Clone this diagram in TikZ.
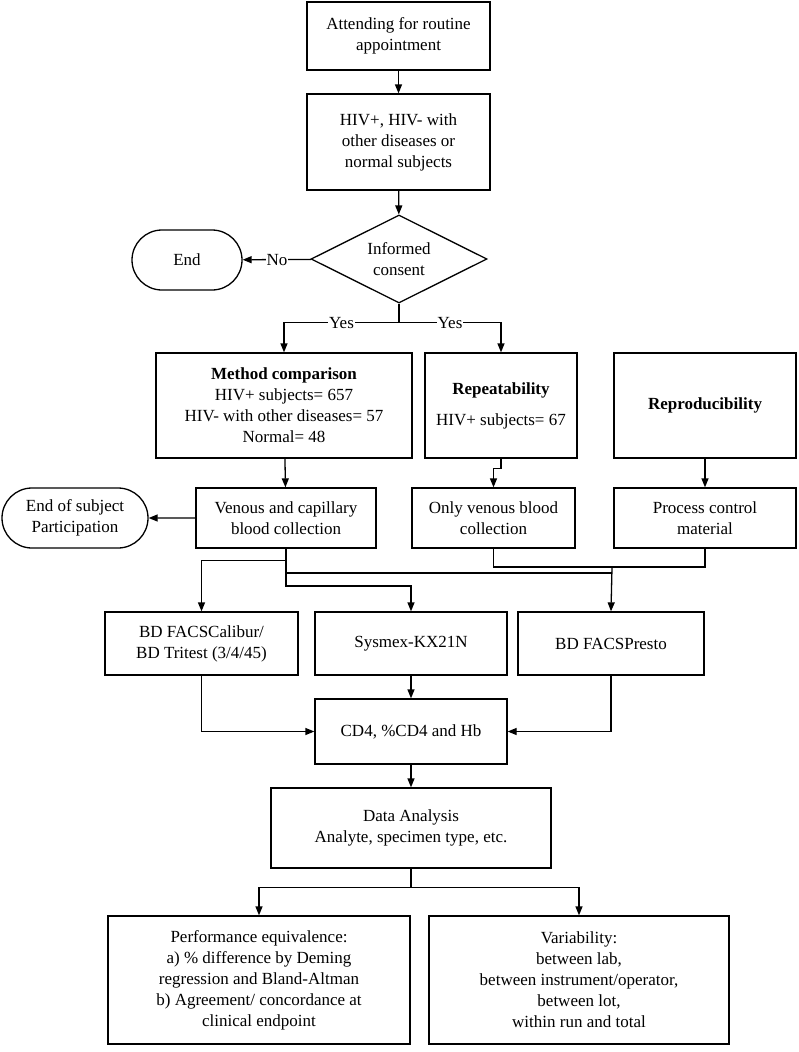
\documentclass[tikz,border=0pt]{standalone}
\usepackage{fontspec}
\setmainfont{Liberation Serif}
\usetikzlibrary{shapes.geometric,shapes.misc,arrows.meta}

\begin{document}
\begin{tikzpicture}[x=1pt,y=-1pt,
    >={Triangle[length=9pt,width=7pt]},
    every node/.style={font=\fontsize{17}{21}\selectfont},
    box/.style={draw,line width=1.3pt,rectangle,align=center,inner sep=0pt},
    term/.style={draw,line width=1.3pt,rounded rectangle,align=center,inner sep=0pt},
    link/.style={line width=1.3pt},
    lbl/.style={fill=white,inner sep=1pt}]
    \useasboundingbox (0,0) rectangle (798,1052);

    % top part
    \node[box,minimum width=183,minimum height=68] (attend) at (398.5,36) {Attending for routine\\appointment};
    \node[box,minimum width=183,minimum height=96] (subj) at (398.5,142) {HIV+, HIV- with\\other diseases or\\normal subjects};
    \node[draw,line width=1.3pt,diamond,aspect=2,align=center,inner sep=0pt,
        minimum width=176,minimum height=88] (consent) at (399,259) {Informed\\consent};
    \node[term,minimum width=110,minimum height=60] (stop) at (187,260) {End};

    % study arms
    \node[box,minimum width=256,minimum height=105] (method) at (284,405.5)
        {\textbf{Method comparison}\\HIV+ subjects= 657\\HIV- with other diseases= 57\\Normal= 48};
    \node[box,minimum width=152,minimum height=105] (repeat) at (501,405.5)
        {\textbf{Repeatability}\\[10pt]HIV+ subjects= 67};
    \node[box,minimum width=182,minimum height=105] (reprod) at (705,405.5) {\textbf{Reproducibility}};

    % collection
    \node[box,minimum width=180,minimum height=60] (venous) at (286,518) {Venous and capillary\\blood collection};
    \node[term,minimum width=146,minimum height=60] (stopsub) at (75,518) {End of subject\\Participation};
    \node[box,minimum width=163,minimum height=60] (onlyven) at (493.5,518) {Only venous blood\\collection};
    \node[box,minimum width=182,minimum height=60] (control) at (705,518) {Process control\\material};

    % instruments
    \node[box,minimum width=193,minimum height=63] (calibur) at (201.5,643.5) {BD FACSCalibur/\\BD Tritest (3/4/45)};
    \node[box,minimum width=192,minimum height=63] (sysmex) at (411,643.5) {Sysmex-KX21N};
    \node[box,minimum width=186,minimum height=63] (presto) at (611,643.5) {BD FACSPresto};
    \node[box,minimum width=192,minimum height=65] (cdfour) at (411,731.5) {CD4, \%CD4 and Hb};
    \node[box,minimum width=280,minimum height=80] (analysis) at (411,828) {Data Analysis\\Analyte, specimen type, etc.};

    % outcomes
    \node[box,minimum width=302,minimum height=128] (perform) at (259,980)
        {Performance equivalence:\\a) \% difference by Deming\\regression and Bland-Altman\\b) Agreement/ concordance at\\clinical endpoint};
    \node[box,minimum width=300,minimum height=128] (vary) at (579,980)
        {Variability:\\between lab,\\between instrument/operator,\\between lot,\\within run and total};

    \coordinate (join) at (612,567);
    \coordinate (joinb) at (612,573);
    \coordinate (tosys) at (411,586);

    % connectors
    \draw[link,->] (attend) -- (subj);
    \draw[link,->] (subj) -- (consent);
    \draw[link,->] (consent) -- node[lbl]{No} (stop);
    \draw[link,->] (consent.south) -- ++(0,19) -| node[lbl,pos=0.25]{Yes} (method.north);
    \draw[link,->] (consent.south) -- ++(0,19) -| node[lbl,pos=0.25]{Yes} (repeat.north);
    \draw[link,->] (method) -- (venous);
    \draw[link,->] (repeat.south) -- ++(0,10) -| (onlyven.north);
    \draw[link,->] (reprod) -- (control);
    \draw[link,->] (venous) -- (stopsub);
    \draw[link,->] (venous.south) -- ++(0,12) -| (calibur.north);
    \draw[link] (venous.south) |- (joinb);
    \draw[link,->] (venous.south) |- (tosys) -- (sysmex.north);
    \draw[link] (onlyven.south) |- (join);
    \draw[link] (control.south) |- (join);
    \draw[link,->] (join) -- (presto.north);
    \draw[link,->] (calibur.south) |- (cdfour.west);
    \draw[link,->] (presto.south) |- (cdfour.east);
    \draw[link,->] (sysmex) -- (cdfour);
    \draw[link,->] (cdfour) -- (analysis);
    \draw[link,->] (analysis.south) -- ++(0,19) -| (perform.north);
    \draw[link,->] (analysis.south) -- ++(0,19) -| (vary.north);
\end{tikzpicture}
\end{document}
